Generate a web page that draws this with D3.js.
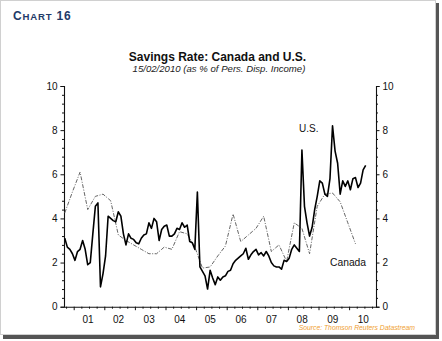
<!DOCTYPE html>
<html><head><meta charset="utf-8">
<script src="https://cdn.jsdelivr.net/npm/d3@7"></script>
<style>html,body{margin:0;padding:0;background:#fff;}svg{display:block;font-family:"Liberation Sans",Arial,sans-serif;}</style>
</head><body>
<svg id="c" width="442" height="341"></svg>
<script>
// ---- data ----
const yearLabels = ["01","02","03","04","05","06","07","08","09","10"];
const labelYears = [2001,2002,2003,2004,2005,2006,2007,2008,2009,2010];
const usStart = 2000 + 8.5/12;   // monthly series start
const usValues = [3.1,2.7,2.6,2.4,2.1,2.5,2.6,3.0,2.6,1.9,2.0,3.3,4.55,4.7,0.9,1.5,2.3,4.1,4.0,3.9,
  3.85,4.3,4.1,3.3,2.8,3.3,3.1,3.05,2.9,2.85,3.1,3.25,3.3,3.8,3.55,4.0,3.85,3.0,3.5,3.65,
  3.7,3.2,3.2,3.3,3.55,3.5,3.8,3.6,3.7,2.95,2.9,2.6,5.2,1.8,1.6,1.4,0.8,1.65,1.3,1.0,
  1.35,1.2,1.35,1.4,1.6,1.65,1.95,2.1,2.2,2.3,2.4,2.65,2.15,2.35,2.5,2.6,2.35,2.45,2.3,2.5,
  2.3,2.0,1.85,1.8,1.8,1.7,2.1,2.05,2.2,2.6,2.8,2.65,2.5,7.1,4.55,3.8,3.2,3.6,4.4,5.0,
  5.7,5.6,5.1,5.0,5.8,8.2,7.05,6.5,5.1,5.7,5.45,5.7,5.3,5.8,5.85,5.4,5.6,6.2,6.4];
const caStart = 2000 + 8.5/12;   // quarterly series start
const caValues = [4.25,5.2,6.1,4.4,5.0,5.1,4.8,3.25,3.0,2.8,2.6,2.4,2.4,2.7,2.6,3.4,3.3,2.7,1.75,1.8,
  2.3,2.75,4.2,2.95,3.25,3.55,4.1,2.5,2.8,2.05,3.8,3.55,2.4,4.55,5.1,5.15,4.75,3.8,2.85];
const yMajor = [0,2,4,6,8,10];

const us = usValues.map((v,i)=>({t: usStart + i/12, v}));
const ca = caValues.map((v,i)=>({t: caStart + i*0.25, v}));

// ---- chart ----
const svg = d3.select("#c");
const L = 64, R = 376, T = 86, B = 306.7;
const x = d3.scaleLinear().domain([2000.683, 2010.879]).range([L, R]);
const y = d3.scaleLinear().domain([0, 10]).range([B, T]);

// frame with shadow
svg.append("rect").attr("x",3).attr("y",3).attr("width",436).attr("height",336).attr("fill","#555");
svg.append("rect").attr("x",0.5).attr("y",0.5).attr("width",435).attr("height",334).attr("fill","#fff").attr("stroke","#d0d0d0");

// header
const hdr = svg.append("text").attr("x",13).attr("y",19.5).attr("fill","#1f3a68").attr("font-weight","bold").attr("letter-spacing",0.8);
hdr.append("tspan").attr("font-size",12).text("C");
hdr.append("tspan").attr("font-size",9.6).text("HART");
hdr.append("tspan").attr("font-size",12).text(" 16");

svg.append("text").attr("x",217.5).attr("y",61).attr("text-anchor","middle")
  .attr("font-size",12).attr("font-weight","bold").attr("fill","#111").text("Savings Rate: Canada and U.S.");
svg.append("text").attr("x",219).attr("y",72).attr("text-anchor","middle")
  .attr("font-size",9.6).attr("font-style","italic").attr("fill","#222").text("15/02/2010 (as % of Pers. Disp. Income)");

// minor tick values for y (every 0.4)
const yMinor = d3.range(0, 10.01, 0.4).filter(v => Math.abs(v/2 - Math.round(v/2)) > 1e-6);

const leftAxis = d3.axisLeft(y).tickValues(yMajor).tickSize(3.5).tickPadding(3).tickFormat(d3.format("d"));
const rightAxis = d3.axisRight(y).tickValues(yMajor).tickSize(3.5).tickPadding(3).tickFormat(d3.format("d"));
svg.append("g").attr("transform",`translate(${L},0)`).call(leftAxis);
svg.append("g").attr("transform",`translate(${R},0)`).call(rightAxis);
svg.append("g").attr("transform",`translate(${L},0)`).call(d3.axisLeft(y).tickValues(yMinor).tickSize(2).tickFormat(""))
  .call(g=>g.select(".domain").remove());
svg.append("g").attr("transform",`translate(${R},0)`).call(d3.axisRight(y).tickValues(yMinor).tickSize(2).tickFormat(""))
  .call(g=>g.select(".domain").remove());

// x axis
const quarters = d3.range(2001, 2010.9, 0.25).filter(q => Math.abs(q - Math.round(q)) > 1e-6);
quarters.unshift(2000.75);
svg.append("g").attr("transform",`translate(0,${B})`)
  .call(d3.axisBottom(x).tickValues(quarters).tickSize(2).tickFormat("").tickSizeOuter(0));
svg.append("g").attr("transform",`translate(0,${B})`)
  .call(d3.axisBottom(x).tickValues(d3.range(2001,2011)).tickSize(3.5).tickFormat("").tickSizeOuter(0))
  .call(g=>g.select(".domain").remove());
svg.append("g").attr("transform",`translate(0,${B})`)
  .call(d3.axisBottom(x).tickValues(labelYears.map(d=>d+0.45)).tickSize(0).tickPadding(9)
    .tickFormat((d,i)=>yearLabels[i]))
  .call(g=>g.select(".domain").remove());

svg.selectAll(".domain").attr("stroke","#111").attr("stroke-width",1.1);
svg.selectAll(".tick line").attr("stroke","#111");
svg.selectAll(".tick text").attr("font-size",10).attr("fill","#111").attr("font-family","Liberation Sans, Arial, sans-serif");

// lines
const line = d3.line().x(d=>x(d.t)).y(d=>y(d.v));
svg.append("path").datum(ca).attr("d",line).attr("fill","none")
  .attr("stroke","#666").attr("stroke-width",1).attr("stroke-dasharray","4,1.5,1,1.5");
svg.append("path").datum(us).attr("d",line).attr("fill","none")
  .attr("stroke","#000").attr("stroke-width",1.6).attr("stroke-linejoin","round");

// series labels
svg.append("text").attr("x",299).attr("y",132).attr("font-size",10).attr("fill","#111").text("U.S.");
svg.append("text").attr("x",330).attr("y",266).attr("font-size",10.3).attr("fill","#111").text("Canada");

// source
svg.append("text").attr("x",415).attr("y",330).attr("text-anchor","end").attr("font-size",6.8)
  .attr("font-style","italic").attr("fill","#f0a030").text("Source: Thomson Reuters Datastream");
</script>
</body></html>
